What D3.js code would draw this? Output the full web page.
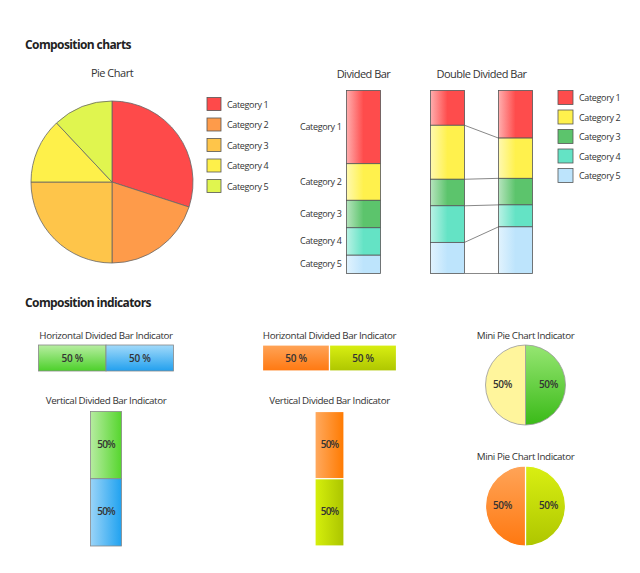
<!DOCTYPE html>
<html>
<head>
<meta charset="utf-8">
<script src="https://cdn.jsdelivr.net/npm/d3@7"></script>
<style>
body{margin:0;background:#fff;}
text{font-family:"Open Sans","Liberation Sans",Arial,sans-serif;fill:#333;}
.h1{font-weight:bold;font-size:12px;fill:#222;letter-spacing:-0.6px;}
.h2{font-size:11px;letter-spacing:-0.5px;}
.lab{font-size:9px;letter-spacing:-0.35px;}
.ind{font-size:9.8px;letter-spacing:-0.4px;}
.pct{font-size:10px;font-weight:600;fill:#333;letter-spacing:-0.3px;}
</style>
</head>
<body>
<svg id="chart" width="640" height="573"></svg>
<script>
// donnees
var categories = ["Category 1","Category 2","Category 3","Category 4","Category 5"];
var pieValues = [30, 20, 25, 13, 12];
var dividedValues = [40, 20, 15, 15, 10];
var doubleLeft = [19, 29.5, 14.5, 20, 17];
var doubleRight = [26, 22, 14.5, 12, 25.5];
var indicValues = [50, 50];
var indicLabels = ["50%", "50%"];

var pieColors = ["#fe4a4a","#fe9b4a","#fec54a","#fef04a","#e0f54f"];
var barColors = ["#fe4c4c","#fff14d","#5cc46c","#64e3c5","#bde4fc"];

var svg = d3.select("#chart");
var defs = svg.append("defs");

// degrades
function gradH(id, c){
	var g = defs.append("linearGradient").attr("id",id).attr("x1",0).attr("x2",1).attr("y1",0).attr("y2",0);
	g.append("stop").attr("offset","0%").attr("stop-color", d3.interpolateRgb(c,"#fff")(0.55));
	g.append("stop").attr("offset","50%").attr("stop-color", c);
	g.append("stop").attr("offset","100%").attr("stop-color", c);
}
function grad2(id, c1, c2, vert){
	var g = defs.append("linearGradient").attr("id",id)
		.attr("x1",0).attr("y1",0).attr("x2",vert?0:1).attr("y2",vert?1:0);
	g.append("stop").attr("offset","0%").attr("stop-color",c1);
	g.append("stop").attr("offset","100%").attr("stop-color",c2);
}
barColors.forEach(function(c,i){ gradH("bg"+i, c); });
grad2("gV", "#b8eea2", "#4cd02a", true);
grad2("bV", "#a2dafa", "#22a0ee", true);
grad2("oV", "#ffa458", "#ff7810", true);
grad2("yV", "#d9ef12", "#aec600", true);
grad2("gH", "#b6eca0", "#56d62e", false);
grad2("bH", "#9ad4f8", "#20a2f0", false);
grad2("oH", "#ffaa60", "#ff7a00", false);
grad2("yH", "#d6f00c", "#abc400", false);
grad2("gP", "#96e672", "#3aba18", true);

// titres
svg.append("text").attr("class","h1").attr("x",25).attr("y",49).text("Composition charts");
svg.append("text").attr("class","h1").attr("x",25).attr("y",307).text("Composition indicators");

// camembert
var pie = d3.pie().sort(null).value(function(d){return d;});
var arc = d3.arc().innerRadius(0).outerRadius(81);
var gp = svg.append("g").attr("transform","translate(112,182)");
gp.selectAll("path").data(pie(pieValues)).join("path")
	.attr("d",arc).attr("fill",function(d,i){return pieColors[i];})
	.attr("stroke","#666").attr("stroke-width",0.8);
svg.append("text").attr("class","h2").attr("x",112).attr("y",77).attr("text-anchor","middle").text("Pie Chart");

function legende(x, y0, step, w, h, cols){
	var lg = svg.append("g");
	var row = lg.selectAll("g").data(categories).join("g")
		.attr("transform",function(d,i){return "translate("+x+","+(y0+i*step)+")";});
	row.append("rect").attr("width",w).attr("height",h)
		.attr("fill",function(d,i){return cols[i];}).attr("stroke","#555").attr("stroke-width",0.8);
	row.append("text").attr("class","lab").attr("x",w+6).attr("y",h/2+3.5).text(function(d){return d;});
}
legende(207, 97.5, 20.5, 14, 13, pieColors);
legende(558, 90.5, 19.5, 15, 14, barColors);

// barres divisees
var yBar = d3.scaleLinear().domain([0,100]).range([90.5, 273.5]);
function cumul(vals){
	var s = 0;
	return vals.map(function(v,i){ var o = {i:i, y0:s, y1:s+v}; s += v; return o; });
}
function barre(x, w, vals){
	var g = svg.append("g");
	g.selectAll("rect").data(cumul(vals)).join("rect")
		.attr("x",x).attr("width",w)
		.attr("y",function(d){return yBar(d.y0);})
		.attr("height",function(d){return yBar(d.y1)-yBar(d.y0);})
		.attr("fill",function(d){return "url(#bg"+d.i+")";})
		.attr("stroke","#555").attr("stroke-width",0.8);
	return g;
}
barre(346.5, 34, dividedValues);
svg.append("g").selectAll("text").data(cumul(dividedValues)).join("text")
	.attr("class","lab").attr("text-anchor","end").attr("x",341.5)
	.attr("y",function(d){return (yBar(d.y0)+yBar(d.y1))/2+3;})
	.text(function(d,i){return categories[i];});
svg.append("text").attr("class","h2").attr("x",363.5).attr("y",78).attr("text-anchor","middle").text("Divided Bar");

// double barre divisee
var cl = cumul(doubleLeft), cr = cumul(doubleRight);
svg.append("g").selectAll("line").data(d3.range(5)).join("line")
	.attr("x1",464.5).attr("x2",498.5)
	.attr("y1",function(i){return yBar(cl[i].y1);})
	.attr("y2",function(i){return yBar(cr[i].y1);})
	.attr("stroke","#888").attr("stroke-width",1);
barre(430.5, 34, doubleLeft);
barre(498.5, 34, doubleRight);
svg.append("text").attr("class","h2").attr("x",481.5).attr("y",78).attr("text-anchor","middle").text("Double Divided Bar");

// indicateurs horizontaux
var xInd = d3.scaleLinear().domain([0,100]);
function indicH(x, w, fills, strk, titre){
	xInd.range([x, x+w]);
	var g = svg.append("g");
	var s = 0;
	var parts = indicValues.map(function(v,i){ var o={i:i,a:s,b:s+v}; s+=v; return o; });
	g.selectAll("rect").data(parts).join("rect")
		.attr("x",function(d){return xInd(d.a);}).attr("y",345)
		.attr("width",function(d){return xInd(d.b)-xInd(d.a);}).attr("height",26)
		.attr("fill",function(d){return "url(#"+fills[d.i]+")";})
		.attr("stroke",strk).attr("stroke-width",strk=="#fff"?1.2:0.8);
	g.selectAll("text").data(parts).join("text").attr("class","pct").attr("text-anchor","middle")
		.attr("x",function(d){return (xInd(d.a)+xInd(d.b))/2;}).attr("y",362)
		.text(function(d){return indicLabels[d.i].replace("%"," %");});
	svg.append("text").attr("class","ind").attr("text-anchor","middle").attr("x",x+w/2).attr("y",339).text(titre);
}
indicH(38.5, 135, ["gV","bV"], "#888", "Horizontal Divided Bar Indicator");
indicH(262.5, 134, ["oV","yV"], "#fff", "Horizontal Divided Bar Indicator");

// indicateurs verticaux
var yInd = d3.scaleLinear().domain([0,100]).range([411.5, 546]);
function indicV(x, w, fills, strk){
	var g = svg.append("g");
	var s = 0;
	var parts = indicValues.map(function(v,i){ var o={i:i,a:s,b:s+v}; s+=v; return o; });
	g.selectAll("rect").data(parts).join("rect")
		.attr("x",x).attr("y",function(d){return yInd(d.a);})
		.attr("width",w).attr("height",function(d){return yInd(d.b)-yInd(d.a);})
		.attr("fill",function(d){return "url(#"+fills[d.i]+")";})
		.attr("stroke",strk).attr("stroke-width",strk=="#fff"?1.2:0.8);
	g.selectAll("text").data(parts).join("text").attr("class","pct").attr("text-anchor","middle")
		.attr("x",x+w/2).attr("y",function(d){return (yInd(d.a)+yInd(d.b))/2+3;})
		.style("letter-spacing","-0.9px")
		.text(function(d){return indicLabels[d.i];});
	svg.append("text").attr("class","ind").attr("text-anchor","middle").attr("x",x+w/2).attr("y",404).text("Vertical Divided Bar Indicator");
}
indicV(90.5, 31, ["gH","bH"], "#888");
indicV(315, 29, ["oH","yH"], "#fff");

// mini camemberts
var miniArc = d3.arc().innerRadius(0).outerRadius(40);
function miniPie(cx, cy, fills, strk, ty){
	var g = svg.append("g").attr("transform","translate("+cx+","+cy+")");
	var data = pie(indicValues);
	g.selectAll("path").data(data).join("path")
		.attr("d",miniArc)
		.attr("fill",function(d,i){return fills[i];})
		.attr("stroke",strk).attr("stroke-width",strk=="#fff"?1.2:0.8);
	g.selectAll("text").data(data).join("text").attr("class","pct").attr("text-anchor","middle")
		.attr("x",function(d){return miniArc.centroid(d)[0]*1.15;}).attr("y",3)
		.text(function(d,i){return indicLabels[i];});
	svg.append("text").attr("class","ind").attr("text-anchor","middle").attr("x",cx).attr("y",ty).text("Mini Pie Chart Indicator");
}
// pie demarre en haut : tranche 0 a droite
miniPie(525.5, 385, ["url(#gP)","#fff59c"], "#999", 339);
miniPie(525.5, 506, ["url(#yV)","url(#oV)"], "#fff", 460);
</script>
</body>
</html>
